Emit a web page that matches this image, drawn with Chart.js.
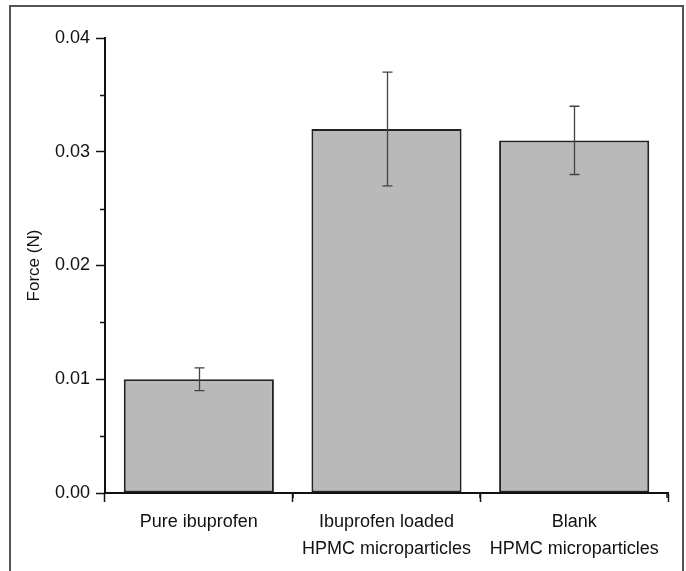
<!DOCTYPE html>
<html>
<head>
<meta charset="utf-8">
<script src="https://cdn.jsdelivr.net/npm/chart.js@4/dist/chart.umd.min.js"></script>
<style>
  html, body { margin: 0; padding: 0; background: #fff; }
  #wrap { width: 686px; height: 571px; }
</style>
</head>
<body>
<div id="wrap"><canvas id="myChart" width="686" height="571"></canvas></div>
<script>
// data
const categories = [
    'Pure ibuprofen',
    ['Ibuprofen loaded', 'HPMC microparticles'],
    ['Blank', 'HPMC microparticles']
];
const forceValues = [0.010, 0.032, 0.031];
const forceErrors = [0.001, 0.005, 0.003];
const yTicks = [0, 0.01, 0.02, 0.03, 0.04];
const yMinorTicks = [0.005, 0.015, 0.025, 0.035];

const FONT = "'Liberation Sans', Arial, Helvetica, sans-serif";
const INK = '#111';

// frame round the whole figure, error bars and minor ticks
const extrasPlugin = {
    id: 'extras',
    beforeDraw(chart) {
        const ctx = chart.ctx;
        ctx.save();
        ctx.strokeStyle = '#555';
        ctx.lineWidth = 2;
        ctx.strokeRect(10, 6, 673, 600);
        ctx.restore();
    },
    afterDraw(chart) {
        const ctx = chart.ctx;
        const x = chart.scales.x;
        const y = chart.scales.y;
        const area = chart.chartArea;
        ctx.save();
        // error bars
        ctx.strokeStyle = '#444';
        ctx.lineWidth = 1.3;
        for (let i = 0; i < forceValues.length; i++) {
            const cx = Math.round(x.getPixelForValue(i)) + 0.5;
            const top = y.getPixelForValue(forceValues[i] + forceErrors[i]);
            const bot = y.getPixelForValue(forceValues[i] - forceErrors[i]);
            ctx.beginPath();
            ctx.moveTo(cx, top); ctx.lineTo(cx, bot);
            ctx.moveTo(cx - 5, top); ctx.lineTo(cx + 5, top);
            ctx.moveTo(cx - 5, bot); ctx.lineTo(cx + 5, bot);
            ctx.stroke();
        }
        // minor ticks on y
        ctx.strokeStyle = INK;
        ctx.lineWidth = 1.5;
        yMinorTicks.forEach(v => {
            const py = Math.round(y.getPixelForValue(v)) + 0.5;
            ctx.beginPath();
            ctx.moveTo(area.left - 5, py); ctx.lineTo(area.left, py);
            ctx.stroke();
        });
        // boundary ticks on x
        for (let i = 0; i < categories.length; i++) {
            const bx = Math.round((x.getPixelForValue(i) + x.getPixelForValue(i + 1)) / 2);
            const px = i === categories.length - 1 ? area.right - 1 : bx;
            ctx.beginPath();
            ctx.moveTo(px, area.bottom); ctx.lineTo(px, area.bottom + 5);
            ctx.stroke();
        }
        ctx.restore();
    }
};

const config = {
    type: 'bar',
    data: {
        labels: categories,
        datasets: [{
            label: 'Force',
            data: forceValues,
            backgroundColor: '#b9b9b9',
            borderColor: '#222',
            borderWidth: 2,
            borderSkipped: false,
            barPercentage: 0.8,
            categoryPercentage: 1.0
        }]
    },
    options: {
        responsive: false,
        animation: false,
        layout: { padding: { top: 38, right: 18, left: 0, bottom: 0 } },
        plugins: {
            legend: { display: false },
            tooltip: { enabled: false }
        },
        scales: {
            x: {
                afterFit: s => { s.height = 78; },
                grid: { drawOnChartArea: false, drawTicks: true, tickLength: 9, tickColor: INK, tickWidth: 1.5 },
                border: { display: true, color: INK, width: 2 },
                ticks: { color: INK, padding: 7, font: { family: FONT, size: 18, lineHeight: 1.5 } }
            },
            y: {
                min: 0,
                max: 0.04,
                afterFit: s => { s.width = 105; },
                afterBuildTicks: s => { s.ticks = yTicks.map(v => ({ value: v })); },
                grid: { drawOnChartArea: false, drawTicks: true, tickLength: 9, tickColor: INK, tickWidth: 1.5 },
                border: { display: true, color: INK, width: 2 },
                ticks: {
                    color: INK,
                    padding: 6,
                    font: { family: FONT, size: 18 },
                    callback: v => Number(v).toFixed(2)
                },
                title: {
                    display: true,
                    text: 'Force (N)',
                    color: INK,
                    font: { family: FONT, size: 17 },
                    padding: { top: 24, bottom: 0 }
                }
            }
        }
    },
    plugins: [extrasPlugin]
};

const myChart = new Chart(document.getElementById('myChart'), config);
</script>
</body>
</html>
